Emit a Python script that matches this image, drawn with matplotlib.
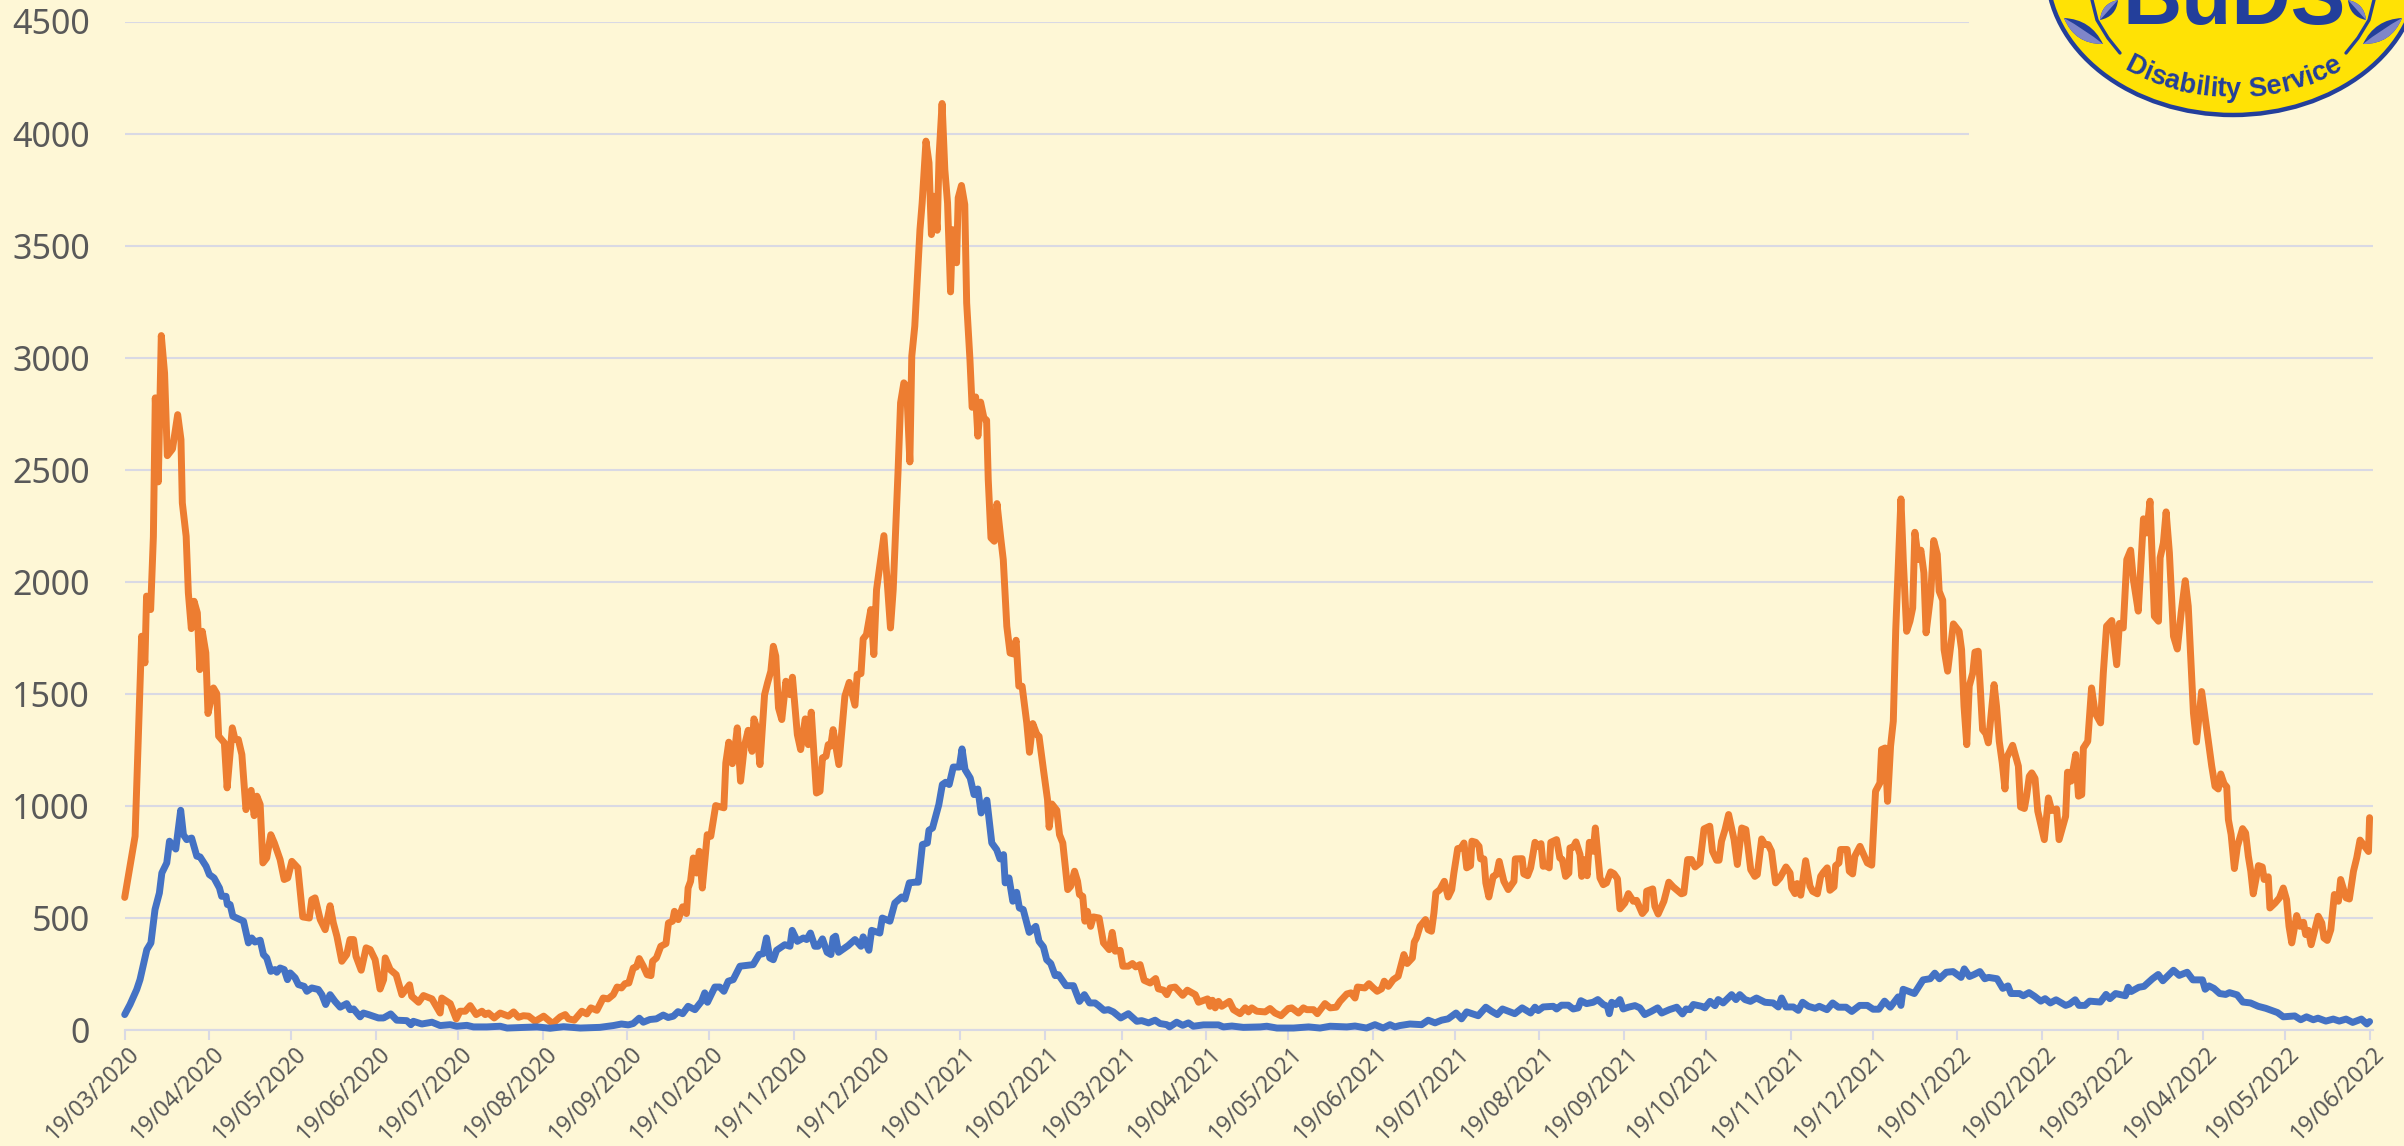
import numpy as np
import pandas as pd
import matplotlib
matplotlib.use("Agg")
import matplotlib.pyplot as plt
import matplotlib.dates as mdates
import matplotlib.transforms as mtrans
from matplotlib.patches import Ellipse, Rectangle, PathPatch
from matplotlib.path import Path

START = "2020-03-19"
END = "2022-06-19"
Y_TICKS = list(range(0, 5000, 500))

orange_days = [
 0,3.8,6.2,7.4,8,9.5,10.5,11.2,12.3,13.4,14.6,15.6,17.5,19.4,20.6,21.1,22.5,23.3,24.4,25.4,26.6,27.5,28.4,29.7,30.5,32.5,33.7,34.4,36.5,37.5,39.4,40.4,41.6,42.9,44.4,46.3,47.4,48.4,49.6,
 50.6,52,53.5,54.8,56.9,58.4,59.7,61.2,63.4,65.2,67.6,68.5,69.7,71.6,73.4,75.2,76.4,77.7,79.5,81.3,82.5,83.8,84.7,86.6,88.4,89.9,91.7,93.5,94.8,95.4,97.2,99.4,101.5,104.3,105.1,107.6,109.4,112.5,115.5,116.1,119.2,121.4,122.8,124.7,126.5,128.7,130.8,132,133.2,135.3,137.5,140.5,142.4,144.2,146,147.9,150.3,153.4,156.7,159.5,161.3,162.5,164.6,167.4,169.2,170.7,172.9,
 175.2,177,178.9,180.3,181.9,183.2,184.6,186.2,187.4,188.4,189.9,191.3,192.7,193.3,194.7,196.3,198.2,199.1,200.6,201.3,202.7,204.3,205.7,206.3,207.2,208.2,209.4,210.4,211.5,213.3,214.6,216.4,219.4,220.1,221.2,222.5,223.4,224.3,225.5,226.9,228.3,229.7,230.4,231.4,232.6,234.3,235.4,236.6,237.5,238.4,239.4,240.6,242.1,243.6,244.5,246.3,247.5,249.2,250.3,251.4,253.3,254.6,255.5,256.8,257.6,258.5,259.4,261.5,263.7,265.3,267.4,268.2,269.6,270.4,271.6,273.2,274.3,
 275.3,278,280.4,281.4,282.4,283.2,284.1,285.3,286.3,287.5,288.2,289.3,291.2,292,293.4,294.5,295.4,296.3,297.5,298.2,299.3,300.3,301.3,302.4,303.1,304.6,305.2,306.4,307.6,308.3,309.5,310.3,311.6,312.4,313.4,314.6,315.6,316.2,317.2,318.4,319.4,320.7,321.7,
 323,324.2,325.4,326.4,327.4,328.6,330.3,331.3,332.5,334,334.8,336.4,337.9,338.5,339.5,341.3,342.3,343.5,345.3,346.4,347.8,348.9,349.6,350.8,351.6,352.5,353.7,354.7,356.8,358.4,360.5,361.6,362.7,364.5,365.5,367.5,369,370.2,371.8,373.3,375.5,377.5,378.5,380.4,381.6,382.8,384.6,387.4,389.1,392,393.2,396.5,397.4,398.3,399.3,400.5,401.7,404.5,406,408.4,410.3,411.5,412.7,414.5,417.6,419.4,421.2,423.4,426.1,427.3,429.8,431.6,432.8,435.3,436.7,439.5,441.4,443.6,445,447.5,449,450.5,451.4,
 454.1,455.6,457.2,458.6,460.2,461.2,462.7,464.5,466.3,468.4,469.6,471.5,472.2,473,474.3,476.3,477.3,478.5,479.4,480.1,481.6,483.2,484.6,485.9,486.7,488.1,489.3,490.4,491.4,492.8,493.3,494.7,495.9,496.5,497.7,498.4,499.5,501.1,502.3,503.3,505,506.6,508.7,509.2,511.7,512.3,513.7,514.8,516.4,517.6,518.6,519.4,520.6,521.6,522.2,524.3,525.5,526.4,527.6,528.8,529.2,530.4,531.4,532.9,533.5,534.3,535.5,536.3,537.7,538.5,540.2,541.4,542.6,544.1,545.3,546.6,547.5,549.3,550.6,552.4,553.6,555.7,556.9,557.3,559.5,560.3,561.5,563.6,565.4,567,570,570.9,572.3,573.7,575,576.8,578.3,580.4,581.4,582.9,583.8,584.7,586,587.3,589.3,590.5,592.1,593.6,595.4,596.9,597.8,599.4,600.6,601.8,603,604.5,606.1,608.3,609.8,610.4,611.6,612.4,613.7,615.5,617.1,618.1,619.8,621,622,623.4,624.4,625.9,626.5,627.7,628.3,630.7,631.5,632.7,633.5,635.4,638.1,639.7,
 641.1,642.7,643.3,644.6,645.5,646.6,647.6,648.5,649.4,650.4,651.3,652.5,653.7,654.7,655.5,656.8,657.7,658.8,659.6,661.3,662.4,663.7,664.4,665.7,666.2,667.5,669.6,671.7,672.6,673.5,674.5,675.4,676.7,677.5,678.7,679.6,680.3,681.5,682.4,684.5,685.4,686.4,687.5,688.5,689.1,691.3,693.4,694.2,695.6,696.4,697.4,698.3,699.5,700.5,702.9,704.4,705.6,707.4,708.3,710.7,711.4,712.7,714.4,715.4,716.6,717.2,718.8,720.2,721.5,723.5,724.5,725.7,727.6,729.4,730.4,731.8,733.1,734.5,735.5,737.3,739.2,740.4,741.6,743.2,744.7,745.3,746.5,747.5,748.7,750.2,751.6,753,754.5,755.6,756.9,757.5,758.6,759.7,760.5,762.4,764.2,765.4,766.6,767.5,768.7,769.7,770.3,771.3,772.5,773.6,775.5,776.6,777.6,778.5,779.4,781.3,782.7,783.4,784.9,785.5,787.4,789,790.4,791.6,792.5,793.5,795.3,796.5,797.8,798.6,799.6,800.6,803.2,804.5,805.3,806.5,807.8,809.1,810.6,811.4,813.4,814.6,816.1,817.3,818.5,821.6,822]
orange_values = [
 590,863,1756,1637,1935,1875,2200,2820,2445,3098,2930,2562,2592,2745,2634,2351,2202,1950,1790,1912,1860,1607,1778,1682,1411,1525,1500,1310,1280,1079,1347,1295,1295,1228,982,1068,955,1042,1005,
 744,766,870,833,759,670,677,751,722,503,498,580,588,491,446,553,476,417,305,335,402,402,327,265,365,357,312,181,223,320,268,245,156,200,149,122,152,137,74,141,116,48,82,82,107,67,82,67,74,52,74,60,79,55,62,60,37,60,27,57,67,48,42,82,70,97,86,
 141,137,156,190,186,205,208,275,280,317,283,245,241,305,320,372,384,476,484,528,491,548,518,632,662,766,699,796,632,870,863,1000,990,1190,1283,1187,1250,1347,1109,1265,1336,1242,1387,1347,1183,1495,1548,1600,1711,1667,1436,1384,1555,1495,1573,1317,1250,1387,1272,1417,1056,1064,1213,1220,1272,1265,1339,1183,1488,1550,1448,1585,1589,1744,1763,1875,1674,
 1964,2205,1793,1964,2262,2500,2798,2887,2872,2534,3006,3140,3571,3690,3966,3869,3549,3720,3568,3899,4134,3839,3690,3293,3571,3423,3713,3768,3683,3244,2991,2778,2824,2649,2801,2731,2720,2455,2195,2180,2348,2202,2098,
 1800,1681,1677,1738,1533,1533,1369,1238,1366,1317,1309,1161,1027,903,1007,979,870,833,625,640,707,662,603,595,484,528,461,503,498,387,357,434,350,354,283,283,295,280,290,220,208,228,182,176,156,186,190,153,176,156,122,137,104,131,97,126,104,126,89,71,97,79,97,82,79,94,74,62,94,97,74,97,89,89,71,116,97,100,126,159,164,141,190,
 186,205,186,171,182,216,193,223,238,335,295,320,391,409,461,491,446,439,521,610,625,662,592,625,699,808,811,833,722,732,841,836,818,762,762,655,592,684,692,751,662,625,662,762,763,695,687,722,836,818,830,729,732,722,836,848,766,759,684,699,811,814,838,781,684,759,687,836,796,900,677,647,655,704,696,673,539,565,607,573,577,518,536,618,628,550,516,573,658,637,606,610,759,759,726,744,896,908,796,756,756,841,893,960,848,737,900,893,714,684,692,851,826,826,796,655,677,726,699,632,607,652,600,754,640,617,606,684,702,722,622,637,732,744,804,804,707,695,774,818,744,734,
 1064,1101,1250,1257,1019,1265,1377,1786,2068,2369,2083,1778,1823,1882,2220,2098,2140,2039,1771,1942,2183,2121,1957,1917,1696,1600,1811,1778,1696,1443,1272,1533,1592,1685,1689,1488,1339,1321,1280,1540,1443,1287,1190,1074,1213,1269,1176,994,987,1042,1131,1146,1121,975,848,1034,978,985,848,952,1149,1109,1228,1042,1049,1257,1287,1525,1414,1369,1592,1801,1826,1629,1813,1793,2098,2140,2009,1868,2280,2217,2359,1845,1823,2106,2173,2311,2128,1756,1699,1860,2004,1890,1563,1414,1284,1414,1509,1339,1176,1086,1074,1141,1098,1083,937,871,719,818,897,878,774,707,606,732,726,670,682,543,565,588,632,580,461,387,509,461,479,424,443,379,506,476,409,398,446,603,573,670,588,583,707,767,846,795,946]

blue_days = [
 0,1.95,4.4,5.6,8.1,9.6,11.1,12.7,13.6,15.4,16.4,18.7,20.5,21.5,22.7,24.5,26.4,27.6,29.8,31,32.7,34.7,35.5,37.1,37.6,38.6,39.6,43.5,45.3,46.5,47.7,49.6,50.8,52,53.5,55,55.7,56.9,58.4,59.6,60.6,62.4,63.6,65.7,66.7,68.5,70.9,72.2,73.6,75.2,77,78.9,81.3,82.5,83.8,86.2,87.4,89.3,92.9,94.8,97.4,99.6,103.3,104.8,105.7,108.8,112.5,115.5,119.2,121.6,125.3,127.7,132.6,137.5,140,151,155.8,160.7,166.8,
 174,178.9,181.9,184.4,186.2,188.4,189.9,192.3,194.7,197.2,199,200.9,202.6,204.3,206.3,208.8,211.2,212.4,213.4,216.1,217.9,219.4,221,222.8,225.3,230.1,232.3,233.8,235,236.2,237.5,238.7,241.7,243.6,244.4,246.3,248.5,249.7,251.1,252.7,253.9,255.5,257.2,258.6,259.4,260.3,261.4,264.9,267.4,269.6,270.4,272.5,273.5,276.5,277.4,280.2,282,284.5,285.7,287.3,289.3,290.6,292.1,293.9,294.5,295.8,298.1,299.4,300.6,301.9,303.4,305.6,
 306.6,307.7,309.6,311,312.4,313.6,315.7,317.5,319.3,320.5,321.8,322.4,323.8,325.2,326.6,327.6,329,331.2,333.6,334.8,336.4,337.6,339.1,340.7,341.9,344.7,347.4,349.6,351.4,353.3,355.3,356.6,358.6,360.2,362,364.7,367.5,370.6,372.4,374.9,377.3,379.1,381.6,382.6,385.2,387.4,389.5,391.3,395,400.5,402.3,405.4,409.6,415.8,418.2,421.9,428,433.5,437.7,441.4,447.5,450.5,
 454.7,457.8,460.8,463.3,465.1,466.9,470.6,474.9,477.3,479.8,482.2,484.6,487.5,489.5,491.4,494.4,495.6,498.4,500.5,502.6,504.5,506.6,509,511.7,514.8,516.4,517.6,519.4,523.1,524.3,526.1,528.6,530.4,532.2,533.2,535.3,537.7,539.4,541.4,542.9,543.6,544.5,546,547.5,548.7,550.6,553,554.8,556.6,559.1,561.3,562.8,565.6,568.3,570.4,571.7,573.1,574.4,577.4,578.6,580.5,582.3,583.5,585.3,588.4,590,591.4,593.3,595.3,597.5,600.6,603.6,605.5,606.7,608.3,611,612.8,
 614.4,616.5,619,620.5,623.3,625.4,627.5,630.3,632.4,635.3,638.1,640.2,642.3,644.4,646.5,649.4,650.4,651.2,655.3,658.5,661.1,662.8,664.5,667,669.5,672.4,673.6,675.5,677.2,679.3,681.1,682.5,685.6,687.7,689.6,690.7,693.8,695.2,697.3,699.4,701.6,703.2,705.1,707.2,710.7,712.1,714.2,715.6,717.8,719.5,723.4,725.5,726.9,729,732.6,733.6,734.7,737.5,739.4,742.5,744.6,746.3,750.2,752.3,755.2,757.3,760.8,761.8,763.2,765,767.1,769.3,770.7,773.5,775.6,778.4,781.2,784,788.3,790.4,794.6,796.8,798.9,801.4,803.1,806,808.7,810.9,813.4,815.8,819,821,822]
blue_values = [
 67,112,179,223,357,387,536,610,699,744,841,806,979,870,848,855,774,771,729,692,677,632,595,595,558,558,506,484,387,409,391,399,335,320,260,268,256,275,268,223,253,231,201,193,171,186,179,156,112,156,126,100,116,89,92,57,74,67,52,52,70,42,40,22,37,25,33,18,22,15,19,12,12,15,7,12,6,13,7,
 10,18,25,21,27,51,33,45,48,65,54,60,80,71,104,89,126,164,122,190,190,171,216,223,283,290,335,339,409,320,312,354,379,372,443,394,409,402,431,372,372,405,345,335,409,417,345,375,402,372,414,354,443,431,498,484,565,592,583,655,658,658,826,833,890,900,1004,1094,1104,1094,1172,1172,
 1253,1161,1123,1049,1074,967,1024,833,803,762,781,655,677,573,613,543,536,434,461,394,369,312,295,241,245,196,196,126,156,119,119,107,86,89,79,52,71,37,40,30,42,27,22,12,33,19,30,15,21,21,12,16,10,12,15,7,7,12,7,15,12,16,
 7,22,7,22,12,18,25,22,42,30,42,48,74,48,79,67,62,100,82,67,92,82,71,97,74,100,85,101,104,92,109,109,92,97,129,116,122,134,112,104,71,122,112,134,92,100,107,97,67,82,97,74,89,100,70,92,89,112,104,97,126,107,134,119,156,134,156,134,126,141,122,119,101,141,101,101,86,
 122,104,95,104,89,119,100,100,81,108,108,91,91,127,100,146,108,180,161,222,227,252,227,256,259,233,271,237,246,259,227,233,227,184,195,161,161,151,165,148,127,138,119,133,108,114,133,108,108,127,123,157,138,161,151,189,170,189,193,227,246,218,265,242,256,222,222,180,195,184,161,157,165,155,123,119,104,95,76,57,61,44,57,44,51,38,47,38,47,32,47,25,36]

BG = "#FEF7D6"
GRID = "#D9D9E4"
TEXT = "#595959"
ORANGE = "#ED7D31"
BLUE = "#4472C4"
LOGO_BLUE = "#233F9B"
W, H = 2404, 1146

start = pd.Timestamp(START)
x0 = mdates.date2num(start)
month_ticks = pd.date_range(START, END, freq=pd.DateOffset(months=1))

fig = plt.figure(figsize=(W / 100, H / 100), dpi=100, facecolor=BG)
L, R, T, B = 124.7, 2373.0, 21.5, 1029.6
ax = fig.add_axes([L / W, 1 - B / H, (R - L) / W, (B - T) / H], facecolor=BG)
ax.plot(x0 + np.array(orange_days), orange_values, color=ORANGE, lw=5,
        solid_joinstyle="round", solid_capstyle="round", clip_on=False, zorder=3)
ax.plot(x0 + np.array(blue_days), blue_values, color=BLUE, lw=5,
        solid_joinstyle="round", solid_capstyle="round", clip_on=False, zorder=4)
ax.set_ylim(0, 4500)
ax.set_xlim(x0, x0 + (R - L) / 2.731)
ax.set_yticks(Y_TICKS)
ax.set_xticks(mdates.date2num(month_ticks))
ax.xaxis.set_major_formatter(mdates.DateFormatter("%d/%m/%Y"))
ax.grid(axis="y", color=GRID, lw=1.5, zorder=0)
ax.set_axisbelow(True)
for s in ("top", "right", "left"):
    ax.spines[s].set_visible(False)
ax.spines["bottom"].set_color(GRID)
ax.spines["bottom"].set_linewidth(1.5)
ax.tick_params(axis="y", length=0, pad=25, labelcolor=TEXT)
ax.tick_params(axis="x", length=7, width=1.5, color=GRID, pad=1.5, labelcolor=TEXT)
for t in ax.get_yticklabels():
    t.set_fontfamily("Noto Sans")
    t.set_fontsize(24.5)
shift = mtrans.ScaledTranslation(3 / 100, 0, fig.dpi_scale_trans)
for t in ax.get_xticklabels():
    t.set_fontfamily("Noto Sans")
    t.set_fontsize(16.5)
    t.set_rotation(45)
    t.set_ha("right")
    t.set_va("top")
    t.set_rotation_mode("anchor")
    t.set_transform(t.get_transform() + shift)

# logo overlay, in pixel coordinates of the picture
ov = fig.add_axes([0, 0, 1, 1], facecolor="none", zorder=10)
ov.set_xlim(0, W)
ov.set_ylim(H, 0)
ov.axis("off")
ov.add_patch(Rectangle((1969, 0), W - 1969, 180, fc=BG, ec="none"))
cx, cy = 2233, -30
ov.add_patch(Ellipse((cx, cy), 2 * 186, 2 * 145, fc="#FFE205", ec=LOGO_BLUE, lw=3.2))

def leaf(p0, p1, bulge, col):
    p0, p1 = np.array(p0, float), np.array(p1, float)
    m = (p0 + p1) / 2
    n = np.array([-(p1 - p0)[1], (p1 - p0)[0]])
    n = n / np.hypot(*n)
    c1, c2 = m + n * bulge[0], m + n * bulge[1]
    verts = [p0, c1, p1, c2, p0]
    codes = [Path.MOVETO, Path.CURVE3, Path.CURVE3, Path.CURVE3, Path.CURVE3]
    ov.add_patch(PathPatch(Path(verts, codes), fc=col, ec="none"))

for sign in (-1, 1):
    fx = lambda dx: cx + sign * dx
    ov.plot([fx(141), fx(136), fx(125), fx(113)], [0, 20, 38, 53], color=LOGO_BLUE, lw=2.4,
            solid_capstyle="round")
    leaf((fx(169), 18), (fx(130), 44), (-sign * 16, sign * 14), LOGO_BLUE)
    leaf((fx(169), 18), (fx(130), 44), (-sign * 16, sign * 2), "#7F86C9")
    leaf((fx(115), 0), (fx(133), 20), (-sign * 10, sign * 10), LOGO_BLUE)
    leaf((fx(115), 0), (fx(133), 20), (-sign * 10, 0), "#7F86C9")

ov.text(2234, 24, "BuDS", fontfamily="Liberation Sans", fontweight="bold", fontsize=59,
        color=LOGO_BLUE, ha="center", va="baseline")

# curved caption along an ellipse
caption = "Disability Service"
CAP_SIZE = 19.6
fig.canvas.draw()
rend = fig.canvas.get_renderer()
a_t, b_t = 176, 127
ts = np.linspace(0, np.pi, 2001)
ex = cx + a_t * np.cos(ts)
ey = cy + b_t * np.sin(ts)
arc = np.concatenate([[0], np.cumsum(np.hypot(np.diff(ex), np.diff(ey)))])
widths = []
for i in range(len(caption)):
    tmp = ov.text(0, 0, caption[: i + 1] + "|", fontfamily="Liberation Sans", fontweight="bold", fontsize=CAP_SIZE)
    widths.append(tmp.get_window_extent(rend).width)
    tmp.remove()
bar = ov.text(0, 0, "|", fontfamily="Liberation Sans", fontweight="bold", fontsize=CAP_SIZE)
bw = bar.get_window_extent(rend).width
bar.remove()
ends = np.array(widths) - bw
starts = np.concatenate([[0], ends[:-1]])
mids = (starts + ends) / 2
total = ends[-1] * 1.02
s_mid = np.interp(np.pi / 2, ts, arc)
for ch, m in zip(caption, mids):
    s = s_mid + total / 2 - m * 1.02
    t = np.interp(s, arc, ts)
    x = cx + a_t * np.cos(t)
    y = cy + b_t * np.sin(t)
    dx, dy = a_t * np.sin(t), -b_t * np.cos(t)
    ang = np.degrees(np.arctan2(-dy, dx))
    ov.text(x, y, ch, fontfamily="Liberation Sans", fontweight="bold", fontsize=CAP_SIZE, color=LOGO_BLUE,
            ha="center", va="baseline", rotation=ang, rotation_mode="anchor")

fig.savefig("out.png", dpi=100, facecolor=BG)
